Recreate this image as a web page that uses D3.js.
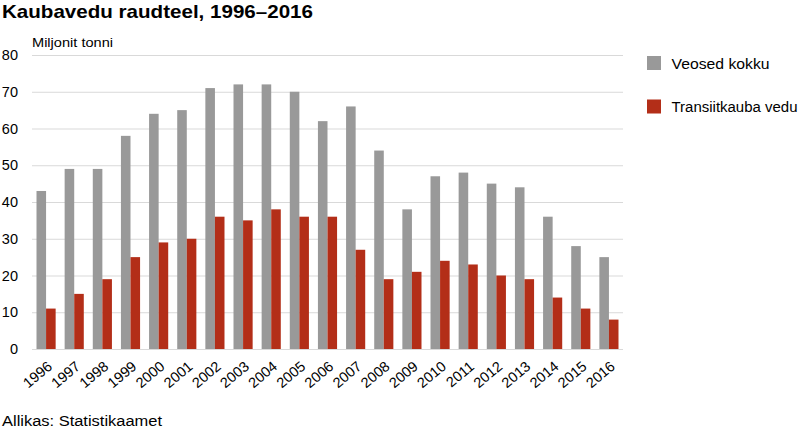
<!DOCTYPE html>
<html><head><meta charset="utf-8">
<script src="https://cdn.jsdelivr.net/npm/d3@7/dist/d3.min.js"></script>
<style>body{margin:0;background:#fff}svg{display:block;font-family:"Liberation Sans",Arial,sans-serif}</style>
</head><body><svg id="c" width="799" height="433"></svg>
<script>
const years = ["1996","1997","1998","1999","2000","2001","2002","2003","2004","2005","2006","2007","2008","2009","2010","2011","2012","2013","2014","2015","2016"];
const totalFreight = [43,49,49,58,64,65,71,72,72,70,62,66,54,38,47,48,45,44,36,28,25];
const transitFreight = [11,15,19,25,29,30,36,35,38,36,36,27,19,21,24,23,20,19,14,11,8];
const seriesNames = ["Veosed kokku","Transiitkauba vedu"];
const seriesColors = ["#999999","#b32e18"];
const yTicks = [0,10,20,30,40,50,60,70,80];

(function(){
const svg = d3.select("#c");
const pl = 32, pr = 623, pt = 55, pb = 349;
const x = d3.scaleBand().domain(years).range([pl, pr]).paddingInner(0.32).paddingOuter(0.16);
const xs = d3.scaleBand().domain([0,1]).range([0, x.bandwidth()]);
const y = d3.scaleLinear().domain([0,80]).range([pb, pt]);

svg.append("text").attr("x",2).attr("y",18).attr("font-size",18.5).attr("font-weight","bold").attr("fill","#000")
  .attr("textLength",311).attr("lengthAdjust","spacingAndGlyphs").text("Kaubavedu raudteel, 1996–2016");
svg.append("text").attr("x",32).attr("y",47).attr("font-size",13.5).attr("fill","#000")
  .attr("textLength",81).attr("lengthAdjust","spacingAndGlyphs").text("Miljonit tonni");

const yAxis = svg.append("g").attr("transform",`translate(${pl},0)`)
  .call(d3.axisLeft(y).tickValues(yTicks).tickSize(-(pr-pl)).tickPadding(14));
yAxis.select(".domain").remove();
yAxis.selectAll("line").attr("stroke","#d9d9d9");
yAxis.selectAll("text").attr("font-size",14.5).attr("fill","#000").attr("font-family","Liberation Sans, Arial, sans-serif");

const series = [totalFreight, transitFreight];
series.forEach((vals, si) => {
  svg.append("g").selectAll("rect").data(vals).join("rect")
    .attr("x",(d,i)=>x(years[i])+xs(si))
    .attr("width",xs.bandwidth())
    .attr("y",d=>y(d))
    .attr("height",d=>y(0)-y(d))
    .attr("fill",seriesColors[si]);
});

const xAxis = svg.append("g").attr("transform",`translate(0,${pb})`)
  .call(d3.axisBottom(x).tickSize(0).tickPadding(0));
xAxis.select(".domain").remove();
xAxis.selectAll("text").attr("font-size",14.5).attr("fill","#000").attr("font-family","Liberation Sans, Arial, sans-serif")
  .attr("text-anchor","end").attr("dy",null).attr("y",0)
  .attr("transform","translate(7,19) rotate(-40)");

const leg = svg.append("g");
const legW = [98,126];
seriesNames.forEach((n,i)=>{
  leg.append("rect").attr("x",647).attr("y",56+i*43.5).attr("width",14).attr("height",14).attr("fill",seriesColors[i]);
  leg.append("text").attr("x",671.5).attr("y",68.5+i*43.5).attr("font-size",14).attr("fill","#000")
    .attr("textLength",legW[i]).attr("lengthAdjust","spacingAndGlyphs").text(n);
});

svg.append("text").attr("x",2).attr("y",425.5).attr("font-size",14).attr("fill","#000")
  .attr("textLength",160).attr("lengthAdjust","spacingAndGlyphs").text("Allikas: Statistikaamet");
})();
</script></body></html>
